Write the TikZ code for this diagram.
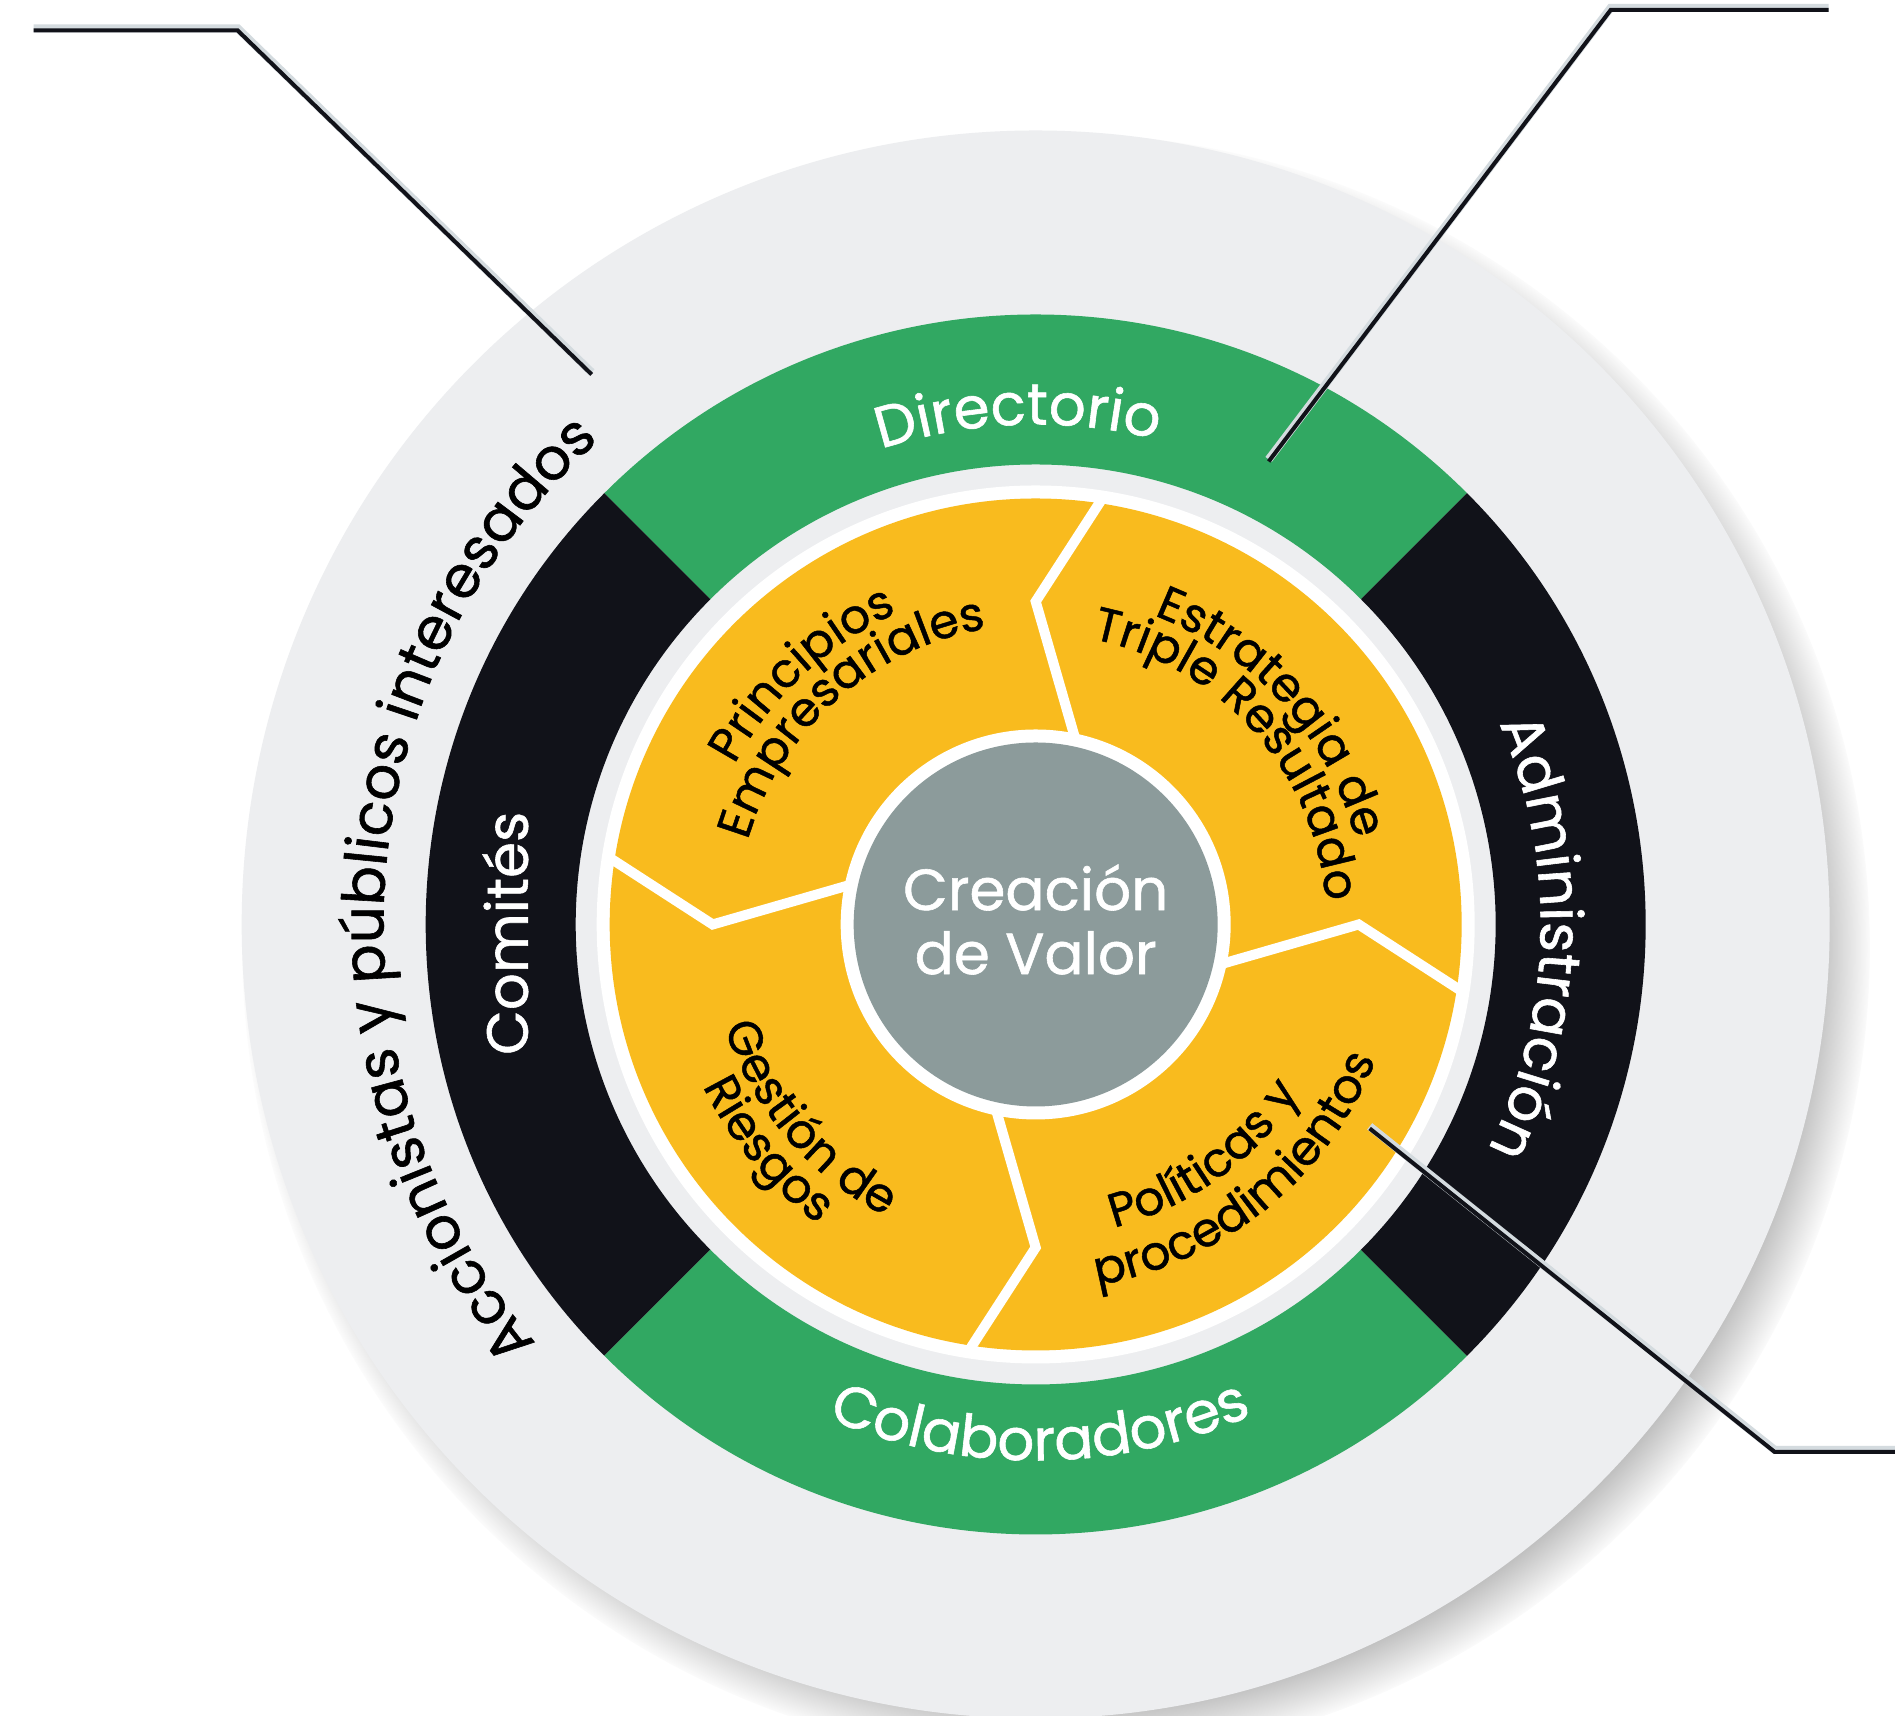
\documentclass[tikz,border=0pt]{standalone}
\usepackage{fontspec}
\setmainfont{Poppins}[FakeBold=1]
\usepackage{tikz}
\usetikzlibrary{decorations.text,shadows,fadings}
\usepackage{xcolor}

\definecolor{ringgreen}{RGB}{49,168,98}
\definecolor{ringblack}{RGB}{17,18,25}
\definecolor{segyellow}{RGB}{249,187,30}
\definecolor{paleback}{RGB}{237,238,240}
\definecolor{coregrey}{RGB}{140,155,155}
\definecolor{leadshade}{RGB}{212,219,223}

\newcommand\ringfont{\fontsize{16.5}{18.2}\selectfont}
\newcommand\segfont{\fontsize{13.5}{16}\selectfont}

\begin{document}
\begin{tikzpicture}[
  leader/.style={line width=1.15pt, draw=ringblack, line join=miter},
  leadershade/.style={line width=2.3pt, draw=leadshade, line join=miter,
    transform canvas={yshift=0.6pt}},
  arctext/.style 2 args={decorate, decoration={text along path,
    text align=center, text color=#1, text={#2}}},
  divider/.style={draw=white, line width=2.85pt, line join=miter}]
  \useasboundingbox (-10.357,-7.915) rectangle (8.593,9.245);
  \fill[white] (-10.357,-7.915) rectangle (8.593,9.245);

  \fill[paleback, circular drop shadow={shadow scale=1.025, shadow xshift=0.2cm,
    shadow yshift=-0.22cm, opacity=0.75,
    path fading={circle with fuzzy edge 10 percent}}] (0,0) circle[radius=7.94];

  \foreach \a/\b/\c in {45/135/ringgreen, 135/225/ringblack,
                        225/315/ringgreen, -45/45/ringblack}
    \fill[\c] (\a:4.6) arc[start angle=\a, end angle=\b, radius=4.6]
      -- (\b:6.1) arc[start angle=\b, end angle=\a, radius=6.1] -- cycle;

  \fill[white] (0,0) circle[radius=4.39];
  \fill[segyellow] (0,0) circle[radius=4.26];
  \foreach \a in {0,90,180,270}
    \draw[divider] (\a-9:4.33) -- (\a:3.23) -- (\a-12:1.9);
  \fill[white] (0,0) circle[radius=1.95];
  \fill[coregrey] (0,0) circle[radius=1.82];
  \node (valor) [text=white, align=center, font=\ringfont] at (0,0.05)
    {Creación\\de Valor};

  \path[arctext={white}{|\ringfont|Directorio}]
    (132:5) arc[start angle=132, end angle=52, radius=5];
  \path[arctext={white}{|\ringfont|Colaboradores}]
    (225.5:5.36) arc[start angle=225.5, end angle=315.5, radius=5.36];
  \path[arctext={white}{|\ringfont|Administración}]
    (43.5:5.05) arc[start angle=43.5, end angle=-46.5, radius=5.05];
  \node (comites) [rotate=90, anchor=base, text=white, font=\ringfont]
    at (181:5.08) {Comités};
  \path[arctext={black}{|\ringfont|Accionistas y públicos interesados}]
    (246:6.52) arc[start angle=246, end angle=106, radius=6.52];

  \path[arctext={black}{|\segfont|Principios}]
    (193:3.41) arc[start angle=193, end angle=73, radius=3.41];
  \path[arctext={black}{|\segfont|Empresariales}]
    (191.6:3.0) arc[start angle=191.6, end angle=71.6, radius=3.0];
  \path[arctext={black}{|\segfont|Estrategia de}]
    (102:3.31) arc[start angle=102, end angle=-18, radius=3.31];
  \path[arctext={black}{|\segfont|Triple Resultado}]
    (101.7:2.91) arc[start angle=101.7, end angle=-18.3, radius=2.91];
  \path[arctext={black}{|\segfont|Gestión de}]
    (160.5:3.28) arc[start angle=160.5, end angle=280.5, radius=3.28];
  \path[arctext={black}{|\segfont|Riesgos}]
    (160:3.70) arc[start angle=160, end angle=280, radius=3.70];
  \path[arctext={black}{|\segfont|Políticas y}]
    (246:3.13) arc[start angle=246, end angle=366, radius=3.13];
  \path[arctext={black}{|\segfont|procedimientos}]
    (249:3.66) arc[start angle=249, end angle=369, radius=3.66];

  \coordinate (accA) at (-10.02,8.94);
  \coordinate (accB) at (-7.98,8.94);
  \coordinate (accC) at (-4.44,5.50);
  \coordinate (dirA) at (2.33,4.63);
  \coordinate (dirB) at (5.75,9.145);
  \coordinate (dirC) at (7.93,9.145);
  \coordinate (polA) at (3.34,-2.04);
  \coordinate (polB) at (7.39,-5.275);
  \coordinate (polC) at (8.62,-5.275);
  \foreach \p/\q/\r in {accA/accB/accC, dirA/dirB/dirC, polA/polB/polC} {
    \draw[leadershade] (\p) -- (\q) -- (\r);
    \draw[leader] (\p) -- (\q) -- (\r);
  }
\end{tikzpicture}
\end{document}
